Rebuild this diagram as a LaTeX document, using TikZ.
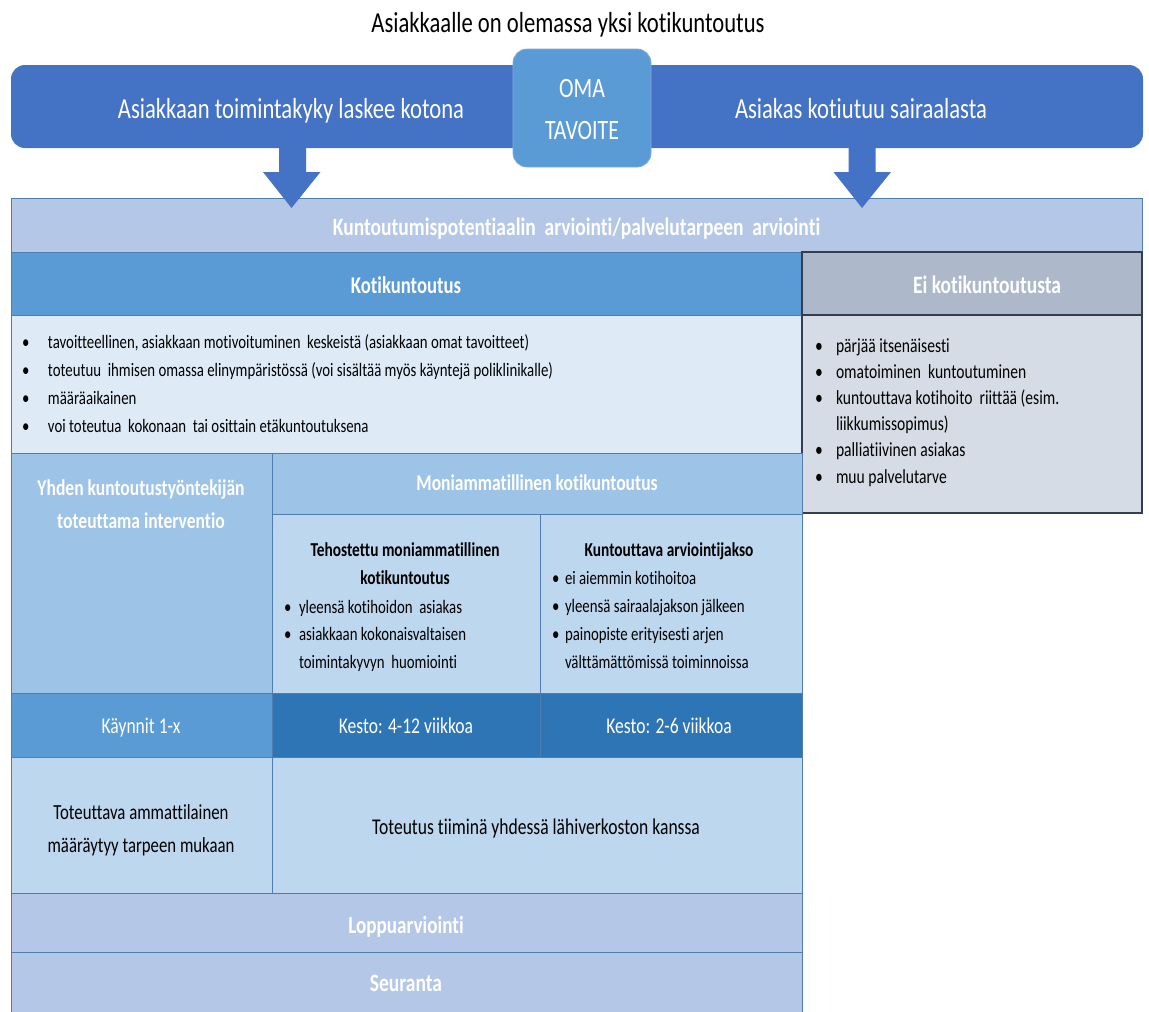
\documentclass[tikz,border=0pt]{standalone}
\usepackage{fontspec}
\setmainfont{Carlito}[FakeStretch=0.78, Ligatures=CommonOff]
\definecolor{bannerblue}{HTML}{4472C4}
\definecolor{omablue}{HTML}{5B9BD5}
\definecolor{omaedge}{HTML}{7AAEE0}
\definecolor{bandblue}{HTML}{B4C7E7}
\definecolor{hdrblue}{HTML}{5B9BD5}
\definecolor{bodyblue}{HTML}{DEEBF7}
\definecolor{midblue}{HTML}{9DC3E6}
\definecolor{lightblue}{HTML}{BDD7EE}
\definecolor{darkblue}{HTML}{2E75B6}
\definecolor{eihdr}{HTML}{ADB9CA}
\definecolor{eibody}{HTML}{D6DCE5}
\definecolor{eiline}{HTML}{333F50}
\definecolor{gridline}{HTML}{4F7DB0}
\newcommand{\fs}[2]{\fontsize{#1}{#2}\selectfont}
\newcommand{\bul}[1][26pt]{\makebox[#1][l]{\textbullet}}
\begin{document}
\begin{tikzpicture}[x=1pt,y=-1pt,
  cell/.style={draw=gridline, line width=0.8pt, anchor=north west, inner sep=0pt, outer sep=0pt},
  eicell/.style={cell, draw=eiline, line width=1.2pt},
  txt/.style={anchor=base, inner sep=0pt, outer sep=0pt, text=white},
  dtxt/.style={txt, text=black},
  list/.style={anchor=base west, inner sep=0pt, outer sep=0pt, text=black}]
\useasboundingbox[fill=white] (0,0) rectangle (1149,1012);

% title
\node[dtxt, font=\fs{29}{34}] (title) at (568,32) {Asiakkaalle on olemassa yksi kotikuntoutus};

% banner
\node[fill=bannerblue, rounded corners=14pt, minimum width=1132pt, minimum height=83pt,
      anchor=north west, inner sep=0pt, outer sep=0pt] (banner) at (11,65) {};
\node[txt, font=\fs{29}{36}] (bannerL) at (291,118) {Asiakkaan toimintakyky laskee kotona};
\node[txt, font=\fs{29}{36}] (bannerR) at (861,118) {Asiakas kotiutuu sairaalasta};
\node[fill=omablue, draw=omaedge, line width=0.8pt, rounded corners=14pt, minimum width=138pt,
      minimum height=118pt, anchor=north west, inner sep=0pt, outer sep=0pt] (oma) at (513,49) {};
\node[txt, font=\fs{28}{42}] (omatext) at (582,97) {\begin{tabular}[t]{@{}c@{}}OMA\\TAVOITE\end{tabular}};

% table cells
\node[cell, fill=bandblue, minimum width=1131pt, minimum height=54pt] (band) at (11,198) {};
\node[cell, fill=hdrblue, minimum width=791pt, minimum height=63pt] (khdr) at (11,252) {};
\node[eicell, fill=eihdr, minimum width=340pt, minimum height=63pt] (eihdr) at (802,252) {};
\node[cell, fill=bodyblue, minimum width=791pt, minimum height=138pt] (kbody) at (11,315) {};
\node[eicell, fill=eibody, minimum width=340pt, minimum height=198pt] (eibody) at (802,315) {};
\node[cell, fill=midblue, minimum width=261pt, minimum height=240pt] (yhden) at (11,453) {};
\node[cell, fill=midblue, minimum width=530pt, minimum height=61pt] (moni) at (272,453) {};
\node[cell, fill=lightblue, minimum width=268pt, minimum height=179pt] (teho) at (272,514) {};
\node[cell, fill=lightblue, minimum width=262pt, minimum height=179pt] (kunt) at (540,514) {};
\node[cell, fill=hdrblue, minimum width=261pt, minimum height=64pt] (kaynnit) at (11,693) {};
\node[cell, fill=darkblue, minimum width=268pt, minimum height=64pt] (kesto1) at (272,693) {};
\node[cell, fill=darkblue, minimum width=262pt, minimum height=64pt] (kesto2) at (540,693) {};
\node[cell, fill=lightblue, minimum width=261pt, minimum height=136pt] (tot1) at (11,757) {};
\node[cell, fill=lightblue, minimum width=530pt, minimum height=136pt] (tot2) at (272,757) {};
\node[cell, fill=bandblue, minimum width=791pt, minimum height=59pt] (loppu) at (11,893) {};
\node[cell, fill=bandblue, minimum width=791pt, minimum height=60pt] (seur) at (11,952) {};

% block arrows
\coordinate (tipL) at (291.5,208);
\coordinate (tipR) at (862,208);
\fill[bannerblue] (tipL) -- ++(-28.5,-36) -- ++(16,0) -- ++(0,-25) -- ++(27,0) -- ++(0,25) -- ++(14.5,0) -- cycle;
\fill[bannerblue] (tipR) -- ++(-28.5,-36) -- ++(15,0) -- ++(0,-25) -- ++(27,0) -- ++(0,25) -- ++(15.5,0) -- cycle;

% texts
\node[txt, font=\fs{25}{28}\bfseries] (bandtext) at (576.5,235) {Kuntoutumispotentiaalin\ \ arviointi/palvelutarpeen\ \ arviointi};
\node[txt, font=\fs{24}{28}\bfseries] (khdrtext) at (406,293) {Kotikuntoutus};
\node[txt, font=\fs{25}{28}\bfseries] (eihdrtext) at (987,293) {Ei kotikuntoutusta};

\node[list, font=\fs{19}{28.3}] (klist) at (22,348) {\begin{tabular}[t]{@{}l@{}}
\bul tavoitteellinen, asiakkaan motivoituminen\ \ keskeistä (asiakkaan omat tavoitteet)\\
\bul toteutuu\ \ ihmisen omassa elinympäristössä (voi sisältää myös käyntejä poliklinikalle)\\
\bul määräaikainen\\
\bul voi toteutua\ \ kokonaan\ \ tai osittain etäkuntoutuksena
\end{tabular}};

\node[list, font=\fs{20}{26.2}] (eilist) at (815,352) {\begin{tabular}[t]{@{}l@{}}
\bul[21pt]pärjää itsenäisesti\\
\bul[21pt]omatoiminen\ \ kuntoutuminen\\
\bul[21pt]kuntouttava kotihoito\ \ riittää (esim.\\
\hspace*{21pt}liikkumissopimus)\\
\bul[21pt]palliatiivinen asiakas\\
\bul[21pt]muu palvelutarve
\end{tabular}};

\node[txt, font=\fs{22.5}{33}\bfseries] (yhdentext) at (141,495) {\begin{tabular}[t]{@{}c@{}}Yhden kuntoutustyöntekijän\\toteuttama interventio\end{tabular}};
\node[txt, font=\fs{22.5}{26}\bfseries] (monitext) at (537,490) {Moniammatillinen kotikuntoutus};

\node[dtxt, font=\fs{19.7}{28}\bfseries] (tehotitle) at (405,556) {\begin{tabular}[t]{@{}c@{}}Tehostettu moniammatillinen\\kotikuntoutus\end{tabular}};
\node[list, font=\fs{19}{27.5}] (teholist) at (284,613) {\begin{tabular}[t]{@{}l@{}}
\bul[15pt]yleensä kotihoidon\ \ asiakas\\
\bul[15pt]asiakkaan kokonaisvaltaisen\\
\hspace*{15pt}toimintakyvyn\ \ huomiointi
\end{tabular}};

\node[dtxt, font=\fs{19.7}{28}\bfseries] (kunttitle) at (669,556) {Kuntouttava arviointijakso};
\node[list, font=\fs{19}{28}] (kuntlist) at (552,584) {\begin{tabular}[t]{@{}l@{}}
\bul[13pt]ei aiemmin kotihoitoa\\
\bul[13pt]yleensä sairaalajakson jälkeen\\
\bul[13pt]painopiste erityisesti arjen\\
\hspace*{13pt}välttämättömissä toiminnoissa
\end{tabular}};

\node[txt, font=\fs{22.5}{26}] (kayntext) at (141,733) {Käynnit 1-x};
\node[txt, font=\fs{22.5}{26}] (kesto1text) at (406,733) {Kesto: 4-12 viikkoa};
\node[txt, font=\fs{22.5}{26}] (kesto2text) at (669,733) {Kesto: 2-6 viikkoa};

\node[dtxt, font=\fs{21.5}{33}] (tot1text) at (141,819) {\begin{tabular}[t]{@{}c@{}}Toteuttava ammattilainen\\määräytyy tarpeen mukaan\end{tabular}};
\node[dtxt, font=\fs{22.5}{26}] (tot2text) at (536,834) {Toteutus tiiminä yhdessä lähiverkoston kanssa};

\node[txt, font=\fs{24.5}{28}\bfseries] (lopputext) at (406,933) {Loppuarviointi};
\node[txt, font=\fs{25}{28}\bfseries] (seurtext) at (406,991) {Seuranta};
\end{tikzpicture}
\end{document}
